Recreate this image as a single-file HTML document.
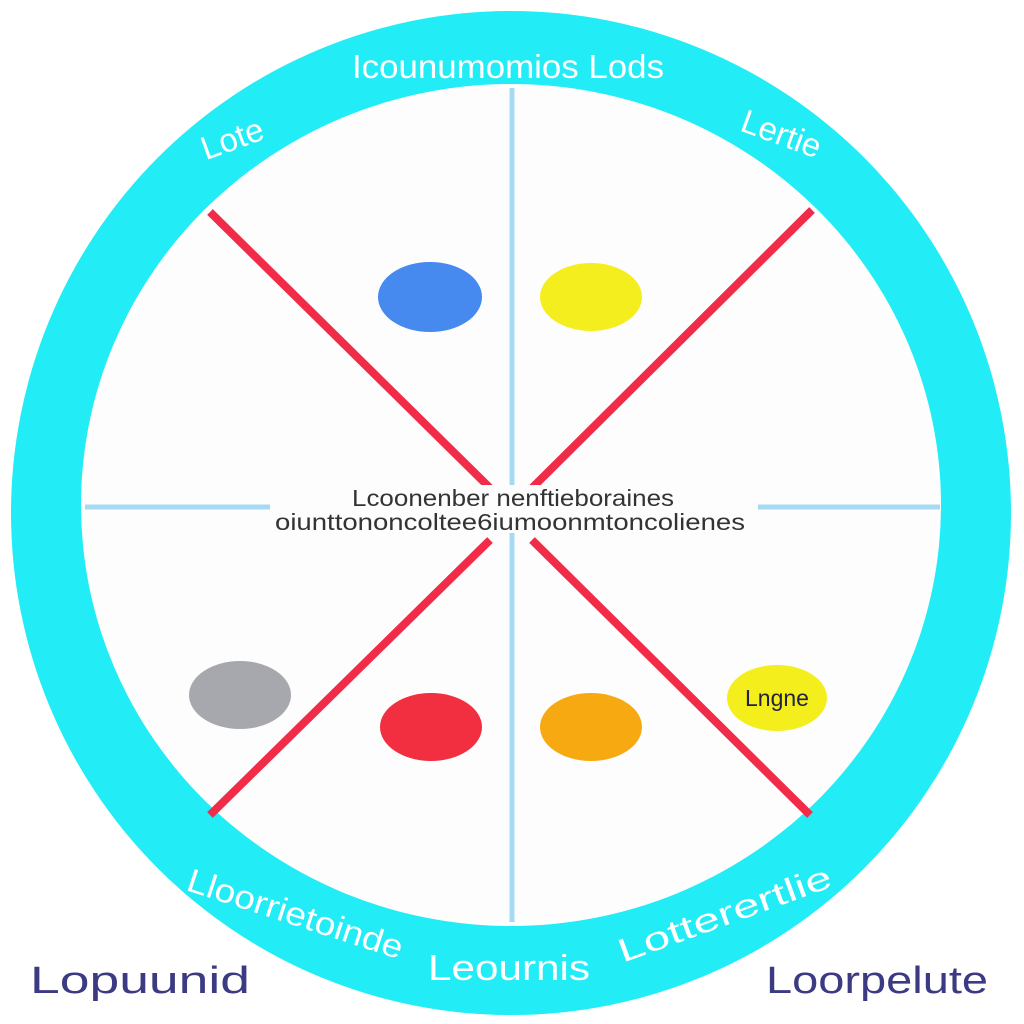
<!DOCTYPE html>
<html><head><meta charset="utf-8"><style>
html,body{margin:0;padding:0;background:#fff;}
svg{display:block;}
</style></head><body>
<svg width="1024" height="1024" viewBox="0 0 1024 1024" xmlns="http://www.w3.org/2000/svg">
<rect width="1024" height="1024" fill="#fff"/>
<ellipse cx="511" cy="513" rx="500" ry="502" fill="#22ecf6"/>
<ellipse cx="511" cy="505" rx="430" ry="421" fill="#fdfdfd"/>
<g stroke="#a6daf2" stroke-width="5">
<line x1="512" y1="88" x2="512" y2="922"/>
<line x1="85" y1="507" x2="270" y2="507"/>
<line x1="758" y1="507" x2="940" y2="507"/>
</g>
<g stroke="#f02c48" stroke-width="8" stroke-linecap="butt">
<line x1="210" y1="212" x2="490" y2="488"/>
<line x1="812" y1="210" x2="532" y2="488"/>
<line x1="210" y1="815" x2="490" y2="540"/>
<line x1="810" y1="815" x2="532" y2="540"/>
</g>
<rect x="272" y="485" width="480" height="48" fill="#fdfdfd"/>
<g font-family="Liberation Sans, sans-serif" text-anchor="middle">
<text x="513" y="506" font-size="23" fill="#333" textLength="322" lengthAdjust="spacingAndGlyphs">Lcoonenber nenftieboraines</text>
<text x="510" y="530" font-size="23" fill="#333" textLength="470" lengthAdjust="spacingAndGlyphs">oiunttononcoltee6iumoonmtoncolienes</text>
</g>
<ellipse cx="430" cy="297" rx="52" ry="35" fill="#4689ef"/>
<ellipse cx="591" cy="297" rx="51" ry="34" fill="#f5ee1f"/>
<ellipse cx="240" cy="695" rx="51" ry="34" fill="#a7a7ae"/>
<ellipse cx="431" cy="727" rx="51" ry="34" fill="#f12f40"/>
<ellipse cx="591" cy="727" rx="51" ry="34" fill="#f7a912"/>
<ellipse cx="777" cy="698" rx="50" ry="33" fill="#f4ee1c"/>
<text x="777" y="706" font-family="Liberation Sans, sans-serif" font-size="23" fill="#224" text-anchor="middle">Lngne</text>
<g font-family="Liberation Sans, sans-serif" fill="#fff" text-anchor="middle">
<text x="508" y="78" font-size="33" textLength="312" lengthAdjust="spacingAndGlyphs">Icounumomios Lods</text>
<text x="232" y="150" font-size="33" transform="rotate(-20 232 138)">Lote</text>
<text x="781" y="145" font-size="33" transform="rotate(20 781 135)">Lertie</text>
<text x="295" y="925" font-size="33" transform="rotate(18 295 915)" textLength="225" lengthAdjust="spacingAndGlyphs">Lloorrietoinde</text>
<text x="509" y="980" font-size="36" textLength="162" lengthAdjust="spacingAndGlyphs">Leournis</text>
<text x="725" y="925" font-size="33" transform="rotate(-20 725 915)" textLength="225" lengthAdjust="spacingAndGlyphs">Lotterertlie</text>
</g>
<g font-family="Liberation Sans, sans-serif" fill="#3b3a82" text-anchor="middle">
<text x="140" y="993" font-size="38" textLength="220" lengthAdjust="spacingAndGlyphs">Lopuunid</text>
<text x="877" y="993" font-size="38" textLength="222" lengthAdjust="spacingAndGlyphs">Loorpelute</text>
</g>
</svg>
</body></html>
